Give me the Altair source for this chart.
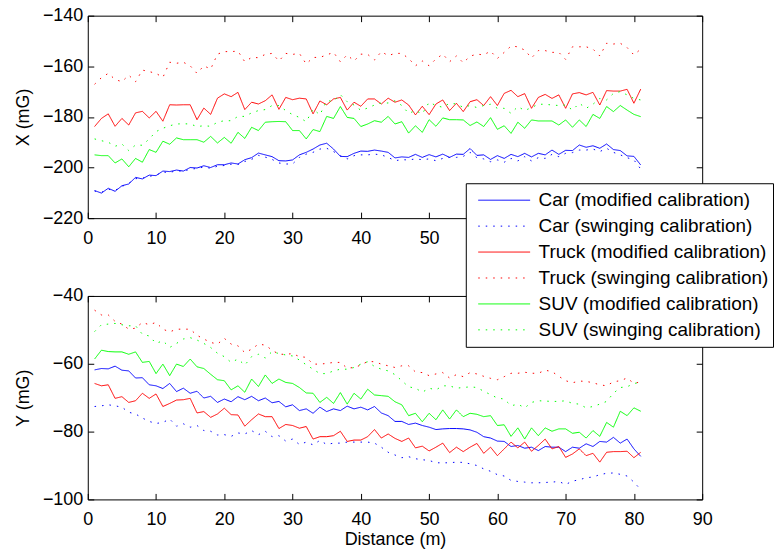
import altair as alt
import pandas as pd

distance = list(range(1, 82))

series_names = [
    "Car (modified calibration)", "Car (swinging calibration)",
    "Truck (modified calibration)", "Truck (swinging calibration)",
    "SUV (modified calibration)", "SUV (swinging calibration)",
]
series_colors = ["#0000ff", "#0000ff", "#ff0000", "#ff0000", "#00ff00", "#00ff00"]
series_dash = [[1, 0], [1.5, 6], [1, 0], [1.5, 6], [1, 0], [1.5, 6]]

x_ticks = [0, 10, 20, 30, 40, 50, 60, 70, 80, 90]
top_ticks = [-220, -200, -180, -160, -140]
bottom_ticks = [-100, -80, -60, -40]

# ---------------- X (mG) ----------------
x_car_mod = [
    -209.1, -210.1, -208.2, -209.4, -207.2, -206.5, -203.9, -204.5, -203.0, -203.2,
    -201.4, -201.6, -201.0, -201.4, -200.0, -200.2, -199.3, -200.0, -198.9, -198.9,
    -198.2, -198.6, -196.9, -196.1, -194.3, -195.0, -195.7, -197.3, -197.4,
    -197.0, -195.0, -194.0, -192.7, -191.1, -190.4, -192.7, -195.6, -195.7, -194.4,
    -193.5, -193.6, -193.1, -193.5, -194.0, -196.2, -195.8, -196.0, -194.8, -196.0,
    -194.9, -195.8, -194.7, -196.0, -194.7, -194.8, -192.5, -195.2,
    -195.0, -196.8, -195.3, -196.4, -194.8, -195.7, -194.4, -195.8, -194.4, -195.0,
    -193.1, -194.8, -193.2, -193.3, -191.1, -192.0, -191.4, -192.4, -190.7, -192.9,
    -193.3, -195.4, -195.6, -199.0,
]
x_car_swing = [
    -209.3, -209.8, -208.6, -209.0, -207.5, -206.2, -204.4, -204.2, -203.5, -203.0,
    -201.8, -202.0, -201.2, -201.6, -200.6, -200.4, -199.8, -200.3, -199.5, -199.2,
    -198.7, -198.8, -197.6, -196.8, -195.2, -195.9, -196.8, -198.2,
    -198.6, -198.6, -196.0, -194.7, -194.0, -192.7, -192.4, -193.7, -195.3, -196.6,
    -195.3, -195.0, -195.0, -194.7, -195.0, -196.0, -197.3, -196.9, -197.0, -196.6,
    -196.9, -196.6, -197.3, -196.4, -196.0, -196.0, -195.6, -194.0,
    -196.1, -196.6, -197.7, -197.0, -197.9, -196.4, -197.4, -195.7, -197.4, -196.1,
    -196.4, -194.8, -195.7, -194.4, -194.1, -193.1, -193.1, -192.7, -193.7, -192.4,
    -194.0, -195.0, -196.1, -197.0, -200.6,
]
x_truck_mod = [
    -183.8, -180.6, -178.8, -183.7, -180.6, -183.2, -178.4, -177.8, -180.4, -177.8,
    -181.7, -175.2, -175.3, -175.2, -175.2, -181.1, -176.5, -179.0, -172.6, -170.9,
    -172.0, -170.3, -177.1, -174.2, -174.9, -173.6, -171.3, -177.0, -172.3,
    -173.2, -172.6, -172.9, -178.8, -173.7, -175.2, -172.9, -172.3, -177.3, -174.2,
    -175.8, -172.9, -172.9, -174.9, -172.6, -174.2, -173.3, -175.3, -179.2, -175.8,
    -179.1, -174.9, -173.3, -177.5, -174.6, -177.9, -174.0, -173.2,
    -175.5, -172.0, -175.5, -170.7, -169.5, -172.0, -170.8, -176.6, -172.3, -171.1,
    -172.7, -171.3, -176.6, -170.9, -170.4, -171.3, -170.3, -175.3, -169.6, -169.8,
    -169.8, -169.1, -174.6, -169.0,
]
x_truck_swing = [
    -167.1, -164.5, -162.8, -165.2, -166.1, -163.5, -166.1, -161.5, -162.1, -162.8,
    -164.4, -158.4, -158.8, -158.4, -159.8, -162.8, -159.8, -161.1, -155.2, -154.2,
    -154.2, -154.0, -158.2, -156.5, -156.6, -155.3, -154.9, -157.9, -154.9, -155.3,
    -154.9, -159.1, -156.5, -156.5, -155.5, -154.5, -158.2, -155.5, -157.9, -155.2,
    -155.3, -157.5, -154.2, -155.8, -154.9,
    -154.9, -156.9, -159.8, -157.9, -159.8, -157.1, -155.2, -158.2, -155.9, -158.6, -156.0,
    -155.2, -155.5, -154.0, -156.9, -154.5, -152.0, -152.3, -153.6, -156.7, -153.8,
    -153.8, -154.5, -154.5, -157.3, -152.3, -152.3, -152.3, -153.2, -155.9, -150.9,
    -151.2, -150.9, -152.6, -155.5, -153.2,
]
x_suv_mod = [
    -195.0, -195.3, -195.3, -198.2, -196.6, -199.7, -196.4, -197.9, -192.9, -194.0,
    -189.6, -190.8, -188.3, -189.0, -189.0, -189.0, -190.0, -187.7, -190.3, -188.1,
    -190.4, -186.1, -188.5, -184.1, -185.4, -182.1, -181.9, -181.8, -181.9,
    -185.4, -185.4, -188.7, -185.0, -185.8, -179.8, -180.6, -175.9, -180.2, -180.6,
    -183.8, -182.8, -181.5, -182.1, -179.8, -182.8, -181.9, -186.4, -183.5, -186.1,
    -181.1, -183.7, -180.4, -181.1, -181.1, -181.2, -183.4, -182.0,
    -183.8, -180.3, -184.9, -183.5, -186.5, -182.1, -184.5, -181.2, -181.6, -181.6,
    -181.6, -183.2, -181.2, -184.1, -181.2, -183.8, -179.0, -180.6, -175.9, -177.9,
    -175.5, -177.3, -179.0, -179.9,
]
x_suv_swing = [
    -188.7, -189.4, -190.0, -191.6, -190.7, -193.3, -191.1, -191.2, -188.7, -185.8,
    -184.5, -183.5, -182.8, -182.7, -182.8, -183.8, -183.5, -183.7, -182.1, -181.5,
    -181.5, -179.8, -179.8, -178.4, -177.5, -177.1, -175.5, -175.5,
    -177.5, -179.1, -180.2, -181.9, -176.9, -179.2, -173.6, -173.8, -171.2, -174.0,
    -175.3, -177.4, -176.5, -175.3, -174.5, -174.5, -173.6, -175.5, -178.6, -177.5,
    -178.8, -174.2, -175.5, -176.2, -174.6, -174.9, -176.2, -175.5,
    -176.3, -175.5, -175.0, -176.6, -176.6, -178.6, -175.9, -177.5, -176.3, -175.0,
    -175.0, -175.3, -175.5, -175.3, -177.3, -174.6, -176.6, -175.0, -172.7, -173.3,
    -170.7, -170.0, -171.3, -172.7, -173.3,
]

# ---------------- Y (mG) ----------------
y_car_mod = [
    -61.8, -61.4, -61.5, -60.7, -61.9, -62.1, -64.2, -64.1, -66.2, -66.5,
    -67.3, -65.8, -68.2, -67.2, -68.7, -68.1, -70.1, -69.6, -71.4, -70.4,
    -71.2, -69.7, -70.6, -69.6, -70.9, -70.1, -71.5, -71.1, -72.7,
    -72.1, -73.8, -73.3, -74.6, -72.8, -74.1, -73.3, -73.8, -72.5, -73.3,
    -72.8, -73.6, -72.6, -74.5, -75.3, -77.0, -77.0, -77.9, -77.5, -78.2,
    -78.7, -79.4, -79.2, -79.1, -79.1, -79.2, -79.5, -80.2,
    -81.5, -81.9, -82.8, -82.9, -84.4, -84.1, -84.9, -84.6, -85.6, -84.4,
    -84.6, -84.6, -85.9, -84.6, -84.9, -83.6, -84.4, -82.9, -83.1, -81.7,
    -83.4, -82.2, -85.1, -87.3,
]
y_car_swing = [
    -72.6, -72.4, -72.1, -72.4, -72.8, -74.3, -74.8, -76.0, -77.0, -77.6,
    -77.3, -76.3, -78.4, -77.7, -78.7, -78.2, -79.7, -79.9, -81.0, -80.9,
    -81.4, -80.4, -80.7, -79.7, -80.9, -79.9, -81.5, -81.2,
    -82.8, -82.2, -83.8, -83.1, -83.9, -82.6, -83.8, -83.4, -83.4, -83.1,
    -83.1, -83.1, -83.1, -83.4, -84.6, -86.1, -86.9, -87.7, -87.4, -88.0,
    -88.3, -88.5, -89.2, -89.2, -89.2, -89.0, -89.1, -89.5,
    -90.0, -91.0, -91.7, -92.7, -93.1, -94.4, -94.7, -94.9, -95.1, -95.1,
    -95.0, -94.9, -94.7, -95.6, -94.6, -94.2, -93.6, -93.4, -92.7, -92.3,
    -92.2, -92.6, -93.1, -94.9, -97.1,
]
y_truck_mod = [
    -65.8, -66.5, -66.2, -70.2, -69.7, -71.4, -70.9, -68.7, -70.2, -68.9,
    -72.6, -71.7, -70.7, -70.6, -70.2, -74.5, -74.1, -75.8, -74.8, -73.1,
    -75.0, -75.1, -78.4, -76.5, -74.8, -75.6, -75.6, -79.1, -77.9,
    -78.2, -79.0, -78.5, -82.2, -81.5, -81.5, -81.2, -79.9, -82.9, -82.5,
    -82.5, -81.5, -79.4, -81.9, -80.7, -82.0, -82.9, -81.9, -84.8, -84.3,
    -85.7, -84.6, -83.4, -86.2, -84.6, -85.9, -84.6, -83.5,
    -86.4, -84.6, -87.1, -85.1, -83.1, -84.8, -83.1, -85.8, -84.1, -82.2,
    -85.1, -84.4, -87.6, -86.6, -85.1, -87.1, -86.4, -89.0, -86.1, -85.9,
    -85.9, -85.8, -87.7, -86.1,
]
y_truck_swing = [
    -44.2, -45.6, -45.6, -47.5, -48.3, -49.8, -49.5, -47.8, -48.5, -47.8,
    -49.8, -50.6, -49.8, -49.8, -49.8, -51.6, -52.7, -53.7, -54.2, -52.5,
    -54.2, -54.7, -56.7, -55.7, -54.2, -54.5, -56.0, -57.2, -57.2,
    -57.0, -57.9, -58.1, -60.1, -60.1, -59.9, -59.6, -59.6, -61.3, -61.1,
    -60.4, -59.3, -59.4, -60.1, -60.6, -61.1, -60.6, -60.6, -62.4, -62.6,
    -63.5, -63.0, -62.6, -64.2, -63.2, -63.8, -62.6,
    -63.0, -63.7, -64.3, -64.7, -63.8, -62.8, -62.8, -62.5, -62.8, -62.8,
    -61.9, -62.3, -63.7, -65.0, -65.6, -65.1, -65.2, -65.6, -66.2, -66.5,
    -65.3, -65.0, -64.2, -65.8, -65.3,
]
y_suv_mod = [
    -58.6, -56.0, -56.4, -56.5, -56.5, -57.2, -56.5, -59.6, -59.3, -62.9,
    -60.1, -63.5, -60.1, -60.8, -58.6, -60.9, -61.4, -63.1, -64.7, -65.0,
    -67.7, -66.5, -68.4, -64.5, -66.7, -63.3, -65.8, -64.5, -65.5,
    -65.8, -67.0, -68.6, -68.7, -71.4, -69.9, -71.7, -68.5, -71.9, -68.7,
    -70.4, -67.5, -69.2, -69.4, -69.6, -71.2, -72.1, -75.3, -74.6, -77.1,
    -74.6, -76.5, -73.6, -76.3, -73.6, -75.6, -74.6, -74.9,
    -75.6, -75.3, -78.2, -78.0, -81.4, -78.9, -82.2, -78.9, -81.2, -78.9,
    -79.9, -79.2, -79.2, -80.5, -80.2, -81.9, -79.7, -81.4, -77.3, -78.7,
    -74.0, -75.3, -73.0, -74.0,
]
y_suv_swing = [
    -50.5, -48.5, -48.3, -48.1, -48.5, -48.8, -48.8, -51.3, -51.8, -54.0,
    -53.2, -55.2, -54.0, -52.7, -52.3, -53.0, -54.0, -55.2, -56.9, -57.9,
    -59.6, -58.6, -60.4, -57.9, -57.2, -58.3, -56.4, -57.0, -57.4,
    -57.7, -58.9, -60.3, -61.6, -62.9, -62.9, -62.1, -61.6, -61.6, -61.1,
    -60.1, -59.4, -60.8, -61.6, -62.1, -63.2, -65.0, -66.8, -67.2, -68.4,
    -67.2, -67.7, -66.5, -66.5, -67.2, -67.0, -66.8,
    -67.0, -68.1, -69.1, -70.1, -70.4, -72.4, -71.9, -73.0, -71.4, -70.9,
    -71.0, -71.1, -71.1, -70.9, -71.7, -71.9, -73.0, -72.6, -71.9, -71.1,
    -68.7, -67.0, -66.8, -65.8, -65.5,
]

FONT = "Liberation Sans"
W = 616
H_TOP = 203
H_BOT = 204


def long_table(columns):
    rows = []
    for name, vals in zip(series_names, columns):
        for d, v in zip(distance, vals):
            rows.append({"d": d, "series": name, "v": v})
    return pd.DataFrame(rows)


top_df = long_table([x_car_mod, x_car_swing, x_truck_mod, x_truck_swing, x_suv_mod, x_suv_swing])
bot_df = long_table([y_car_mod, y_car_swing, y_truck_mod, y_truck_swing, y_suv_mod, y_suv_swing])

legend = alt.Legend(
    title=None, orient="none", legendX=379, legendY=168,
    fillColor="white", strokeColor="black", padding=4,
    symbolType="stroke", symbolSize=52 * 52, symbolStrokeWidth=1,
    symbolOffset=8, labelOffset=8, labelFont=FONT, labelFontSize=19,
    labelColor="black", labelLimit=500, clipHeight=26, rowPadding=0,
)
color_enc = alt.Color("series:N", scale=alt.Scale(domain=series_names, range=series_colors), legend=legend)
dash_enc = alt.StrokeDash("series:N", scale=alt.Scale(domain=series_names, range=series_dash), legend=legend)


def panel(df, ticks, ytitle, xtitle, height):
    xs = alt.Scale(domain=[0, 90], nice=False)
    ys = alt.Scale(domain=[ticks[0], ticks[-1]], nice=False, zero=False)
    lines = alt.Chart(df).mark_line(strokeWidth=1, clip=True).encode(
        x=alt.X("d:Q", scale=xs, axis=alt.Axis(
            orient="bottom", values=x_ticks, offset=-6, tickSize=6, domain=False, grid=False,
            labelFont=FONT, labelFontSize=18, labelPadding=11, labelFlush=False, labelOverlap=False,
            tickColor="black", labelColor="black",
            title=xtitle, titleFont=FONT, titleFontSize=18, titleFontWeight="normal",
            titleColor="black", titlePadding=2)),
        y=alt.Y("v:Q", scale=ys, axis=alt.Axis(
            orient="left", values=ticks, offset=-6, tickSize=6, domain=False, grid=False,
            labelFont=FONT, labelFontSize=18, labelPadding=5, labelFlush=False, labelOverlap=False,
            tickColor="black", labelColor="black",
            title=ytitle, titleFont=FONT, titleFontSize=18, titleFontWeight="normal",
            titleColor="black", titlePadding=10)),
        color=color_enc,
        strokeDash=dash_enc,
        order=alt.Order("d:Q"),
    )
    frame_ticks = alt.Chart(df).mark_point(opacity=0).encode(
        x=alt.X("d:Q", scale=xs, axis=alt.Axis(
            orient="top", values=x_ticks, offset=-6, tickSize=6, domain=False, grid=False,
            labels=False, tickColor="black", title=None)),
        y=alt.Y("v:Q", scale=ys, axis=alt.Axis(
            orient="right", values=ticks, offset=-6, tickSize=6, domain=False, grid=False,
            labels=False, tickColor="black", title=None)),
    )
    return alt.layer(lines, frame_ticks).resolve_axis(x="independent", y="independent").properties(
        width=W, height=height)


top = panel(top_df, top_ticks, "X (mG)", None, H_TOP)
bottom = panel(bot_df, bottom_ticks, "Y (mG)", "Distance (m)", H_BOT)

chart = alt.vconcat(top, bottom, spacing=78, bounds="flush").resolve_scale(
    color="shared", strokeDash="shared"
).properties(
    padding={"left": 13, "top": 5, "right": 0, "bottom": 0},
    background="white",
).configure_view(stroke="black", strokeWidth=1)

chart.save("out.html", embed_options={"renderer": "svg", "actions": False})
